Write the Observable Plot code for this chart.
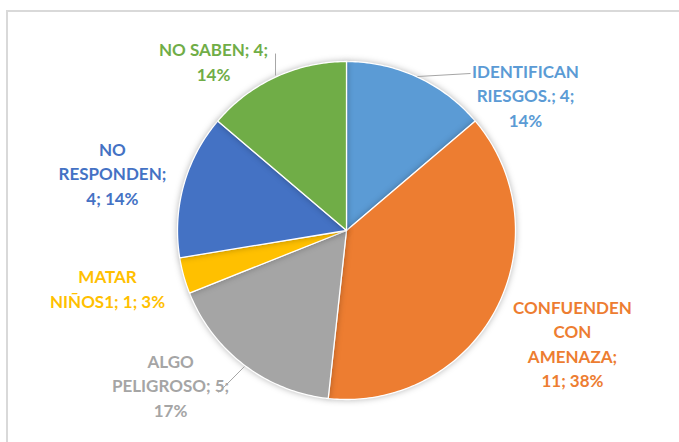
<!DOCTYPE html>
<html><head><meta charset="utf-8">
<script src="https://cdn.jsdelivr.net/npm/d3@7"></script>
<script src="https://cdn.jsdelivr.net/npm/@observablehq/plot@0.6"></script>
<style>
html,body{margin:0;padding:0;background:#fff;overflow:hidden;}
#wrap{position:relative;width:679px;height:442px;overflow:hidden;background:#fff;}
#frame{position:absolute;left:6px;top:10px;width:740px;height:500px;border:2px solid #d9d9d9;box-sizing:border-box;}
#chart{position:absolute;left:0;top:0;}
#chart svg g[aria-label="line"]{filter:drop-shadow(0px 0px 3px rgba(0,0,0,0.28));}
</style></head><body>
<div id="wrap"><div id="frame"></div><div id="chart"></div></div>
<script>
// ---- data ----
const categories = ["IDENTIFICAN RIESGOS.", "CONFUENDEN CON AMENAZA", "ALGO PELIGROSO", "MATAR NIÑOS1", "NO RESPONDEN", "NO SABEN"];
const values = [4, 11, 5, 1, 4, 4];
const labels = [
  "IDENTIFICAN\nRIESGOS.; 4;\n14%",
  "CONFUENDEN\nCON\nAMENAZA;\n11; 38%",
  "ALGO\nPELIGROSO; 5;\n17%",
  "MATAR\nNIÑOS1; 1; 3%",
  "NO\nRESPONDEN;\n4; 14%",
  "NO SABEN; 4;\n14%"
];
const colors = ["#5B9BD5", "#ED7D31", "#A5A5A5", "#FFC000", "#4472C4", "#70AD47"];

// ---- layout (radius units, y up, pie centered at 0,0) ----
const labelAnchors = [[1.059, 0.805], [1.337, -0.663], [-1.041, -0.911], [-1.414, -0.337], [-1.385, 0.343], [-0.787, 1.006]];
const leaders = [
  {x1: 0.42, y1: 0.911, x2: 0.734, y2: 0.929},
  {x1: -0.604, y1: -0.805, x2: -0.757, y2: -0.959},
  {x1: -0.42, y1: 0.917, x2: -0.42, y2: 1.047}
];

const W = 679, H = 442, cx = 346, cy = 230, R = 169;

const total = d3.sum(values);
const pie = d3.pie().sort(null).value(d => d)(values);
const slices = pie.map((p, i) => {
  const pts = [{x: 0, y: 0}];
  const n = Math.max(2, Math.ceil((p.endAngle - p.startAngle) / (Math.PI / 180)));
  for (let k = 0; k <= n; k++) {
    const a = p.startAngle + (p.endAngle - p.startAngle) * k / n;
    pts.push({x: Math.sin(a), y: Math.cos(a)});
  }
  return {pts, color: colors[i]};
});

const labelData = categories.map((c, i) => ({
  x: labelAnchors[i][0], y: labelAnchors[i][1], text: labels[i], color: colors[i]
}));

const chart = Plot.plot({
  width: W, height: H,
  margin: 0,
  x: {domain: [-cx / R, (W - cx) / R], axis: null},
  y: {domain: [-(H - cy) / R, cy / R], axis: null},
  color: {type: "identity"},
  style: {background: "transparent"},
  marks: [
    ...slices.map(s => Plot.line(s.pts, {x: "x", y: "y", fill: s.color, stroke: "white", strokeWidth: 1.3, curve: "linear-closed"})),
    Plot.link(leaders, {x1: "x1", y1: "y1", x2: "x2", y2: "y2", stroke: "#a6a6a6", strokeWidth: 1}),
    Plot.text(labelData, {x: "x", y: "y", text: "text", fill: "color", fontWeight: "bold", fontSize: 17, lineHeight: 1.44, fontFamily: "Lato, 'Open Sans', sans-serif", textAnchor: "middle", lineAnchor: "middle"})
  ]
});
document.getElementById("chart").appendChild(chart);
</script>
</body></html>
